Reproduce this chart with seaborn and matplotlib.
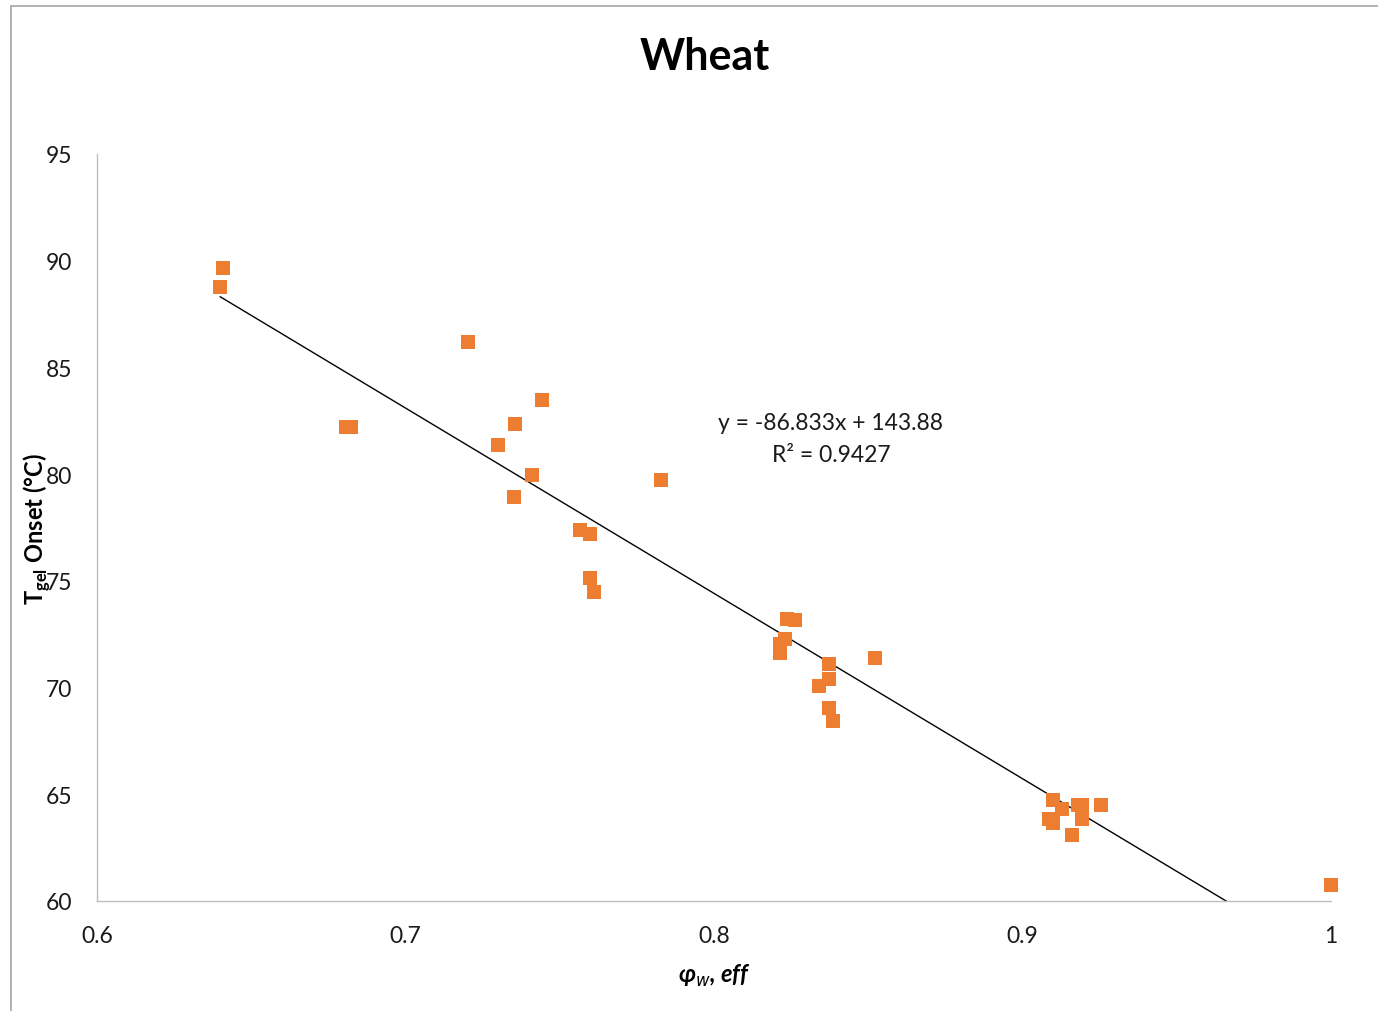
import numpy as np
import pandas as pd
import matplotlib
matplotlib.use("Agg")
import matplotlib.pyplot as plt
import seaborn as sns
from matplotlib.lines import Line2D

# ---- data ----
phi_w_eff = [0.6408, 0.6399, 0.7203, 0.6807, 0.6823, 0.7442, 0.7355, 0.7300,
             0.7410, 0.7352, 0.7828, 0.7566, 0.7598, 0.7598, 0.7611,
             0.8237, 0.8263, 0.8230, 0.8214, 0.8214, 0.8373, 0.8373, 0.8340,
             0.8522, 0.8373, 0.8386,
             0.9099, 0.9086, 0.9099, 0.9128, 0.9180, 0.9193, 0.9193, 0.9254,
             0.9160, 1.0000]
t_gel_onset = [89.66, 88.77, 86.19, 82.21, 82.21, 83.47, 82.35, 81.37,
               79.96, 78.93, 79.73, 77.38, 77.20, 75.13, 74.48,
               73.21, 73.17, 72.28, 72.04, 71.62, 71.10, 70.40, 70.07,
               71.39, 69.04, 68.43,
               64.73, 63.84, 63.65, 64.31, 64.50, 64.50, 63.84, 64.50,
               63.09, 60.75]
trend_slope = -86.833
trend_intercept = 143.88
r_squared = 0.9427
x_ticks = [0.6, 0.7, 0.8, 0.9, 1.0]
x_tick_labels = ["0.6", "0.7", "0.8", "0.9", "1"]
y_ticks = [60, 65, 70, 75, 80, 85, 90, 95]

df = pd.DataFrame({"phi": phi_w_eff, "T": t_gel_onset})

sns.set_theme(style="white")
plt.rcParams["font.family"] = ["Lato", "DejaVu Sans"]

fig = plt.figure(figsize=(13.78, 10.12), dpi=100)
ax = fig.add_axes([97 / 1378, 1 - 902 / 1012, (1331 - 97) / 1378, (902 - 155) / 1012])

sns.scatterplot(data=df, x="phi", y="T", ax=ax, marker="s", s=110,
                color="#ED7D31", edgecolor="none", linewidth=0, zorder=3,
                clip_on=False)

xs = np.array([min(phi_w_eff), max(phi_w_eff)])
ax.plot(xs, trend_slope * xs + trend_intercept, color="black", lw=1.0, zorder=2)

ax.set_xlim(0.6, 1.0)
ax.set_ylim(60, 95)
ax.set_xticks(x_ticks)
ax.set_xticklabels(x_tick_labels)
ax.set_yticks(y_ticks)
ax.tick_params(axis="both", labelsize=16.5, colors="#1a1a1a", length=0)
ax.tick_params(axis="x", pad=17)
ax.tick_params(axis="y", pad=18)
for s in ["top", "right"]:
    ax.spines[s].set_visible(False)
for s in ["left", "bottom"]:
    ax.spines[s].set_color("#BFBFBF")
    ax.spines[s].set_linewidth(1.0)

ax.set_xlabel(r"φ$_{w}$, eff", fontsize=17, fontweight="bold", fontstyle="italic",
              labelpad=12, color="black")
ax.set_ylabel(r"T$_{\mathregular{gel}}$ Onset (°C)", fontsize=17, fontweight="bold",
              color="black")
ax.yaxis.set_label_coords(-0.036, 0.5)

fig.text(705 / 1378, 1 - 57 / 1012, "Wheat", fontsize=31, fontweight="bold",
         ha="center", va="center", color="black")

ax.text(0.8379, 82.4, f"y = {trend_slope}x + {trend_intercept}", fontsize=16.5,
        ha="center", va="center", color="#1a1a1a")
ax.text(0.8379, 80.9, f"R² = {r_squared}", fontsize=16.5,
        ha="center", va="center", color="#1a1a1a")

# chart border (top and left visible)
fig.add_artist(Line2D([11 / 1378, 1.0], [1 - 7 / 1012, 1 - 7 / 1012],
                      transform=fig.transFigure, color="#A6A6A6", lw=1.2))
fig.add_artist(Line2D([11 / 1378, 11 / 1378], [0.0, 1 - 7 / 1012],
                      transform=fig.transFigure, color="#A6A6A6", lw=1.2))

fig.savefig("out.png", dpi=100)
